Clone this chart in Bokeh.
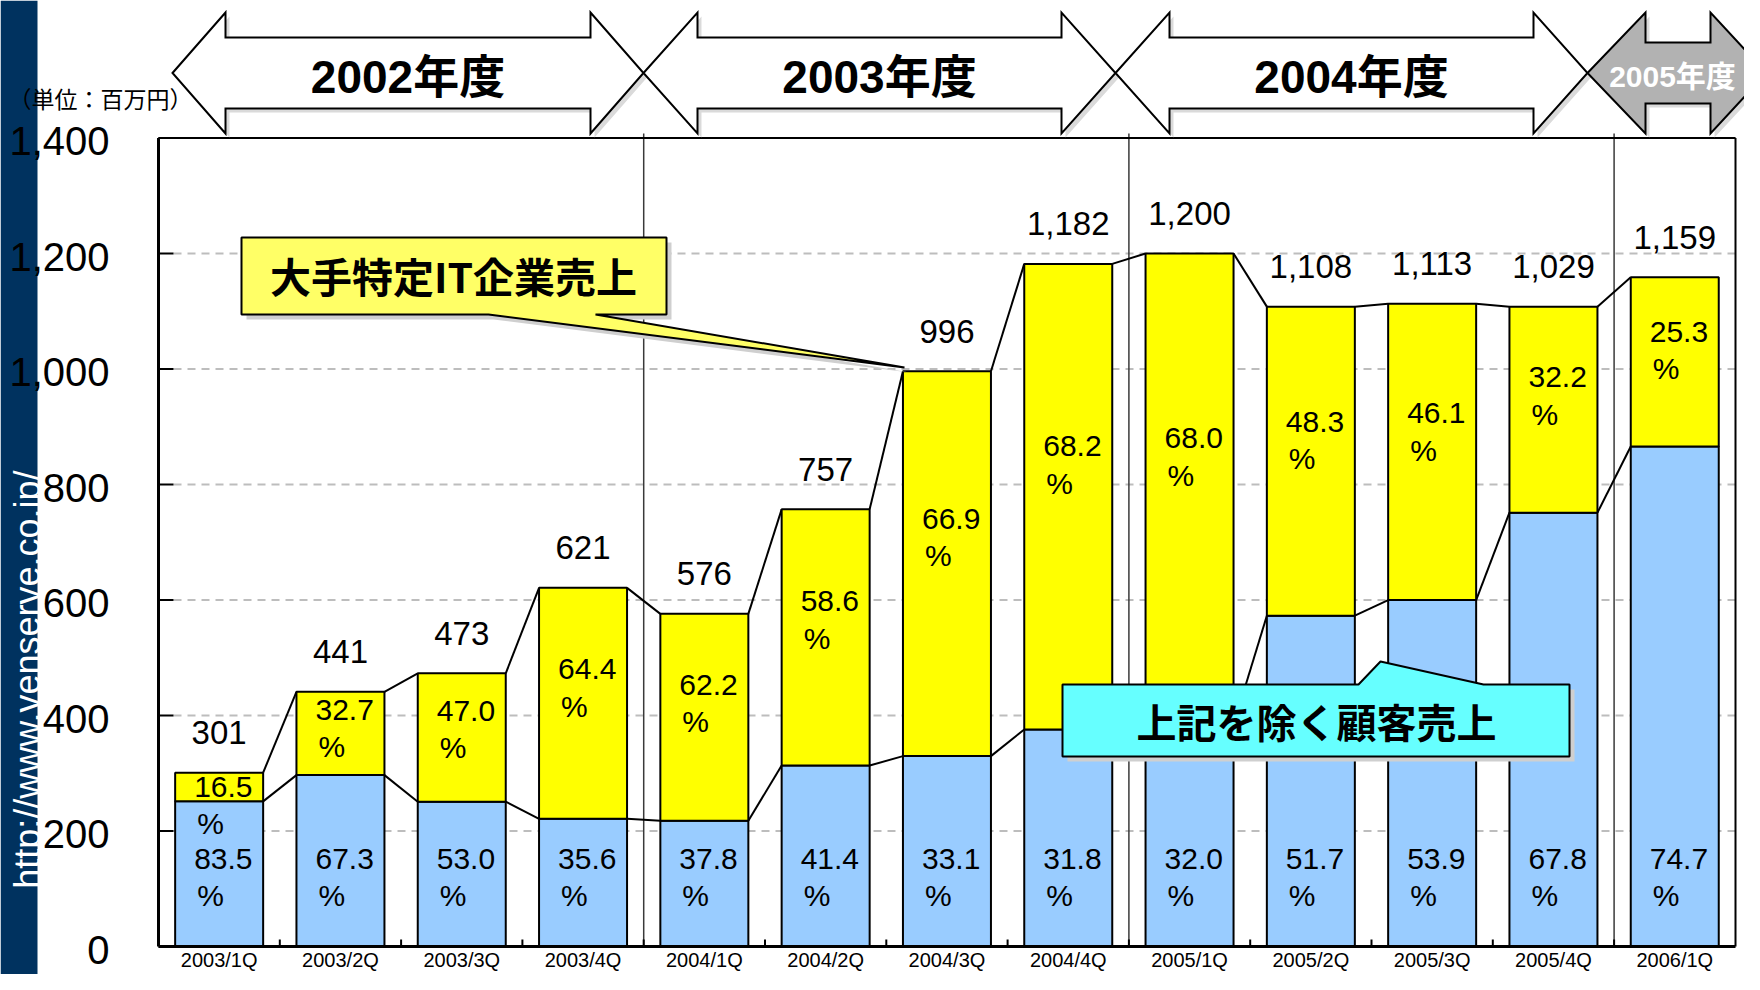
import math
from bokeh.plotting import figure
from bokeh.models import Range1d
from bokeh.core.properties import value
from bokeh.embed import file_html
from bokeh.resources import INLINE

# ---------------- data ----------------
quarters = ["2003/1Q", "2003/2Q", "2003/3Q", "2003/4Q", "2004/1Q", "2004/2Q", "2004/3Q",
            "2004/4Q", "2005/1Q", "2005/2Q", "2005/3Q", "2005/4Q", "2006/1Q"]
fiscal_years = ["2002年度", "2003年度", "2004年度", "2005年度"]
quarters_per_year = [4, 4, 4, 1]
sales_total = [301, 441, 473, 621, 576, 757, 996, 1182, 1200, 1108, 1113, 1029, 1159]
# bar heights as drawn in the source picture (2005/4Q is drawn at about 1,108)
drawn_total = [301, 441, 473, 621, 576, 757, 996, 1182, 1200, 1108, 1113, 1108, 1159]
major_it_share = [16.5, 32.7, 47.0, 64.4, 62.2, 58.6, 66.9, 68.2, 68.0, 48.3, 46.1, 32.2, 25.3]
other_share = [83.5, 67.3, 53.0, 35.6, 37.8, 41.4, 33.1, 31.8, 32.0, 51.7, 53.9, 67.8, 74.7]
y_ticks = [0, 200, 400, 600, 800, 1000, 1200, 1400]
unit_label = "（単位：百万円）"
major_label = "大手特定IT企業売上"
other_label = "上記を除く顧客売上"
url_text = "http://www.venserve.co.jp/"

# ---------------- layout helpers (picture pixels -> data) ----------------
FL, FB, CW, K = 158.0, 946.0, 121.3, 0.5775   # frame left, zero line, category width, px per unit
W, H = 1744, 974


def X(px):
    return (px - FL) / CW - 0.5


def Y(py):
    return (FB - py) / K


n = len(quarters)
xs = list(range(n))
BW = 88.0 / CW
blue_top = [t * s / 100.0 for t, s in zip(drawn_total, other_share)]

LAT = value("Liberation Sans")
CJK = value("Noto Sans CJK JP")
MIX = value("Liberation Sans, Noto Sans CJK JP")

p = figure(width=W, height=H, output_backend="svg", toolbar_location=None,
           x_range=Range1d(X(0), X(W)), y_range=Range1d(Y(H), Y(0)),
           x_axis_location=None, y_axis_location=None, min_border=0,
           outline_line_color=None, background_fill_color="white", border_fill_color="white")
p.xgrid.visible = False
p.ygrid.visible = False

# left navy band with url
p.quad(left=X(0), right=X(37), bottom=Y(H), top=Y(0), fill_color="#00325F", line_color=None)
p.text(x=[X(27)], y=[Y(470)], text=[url_text], angle=math.pi / 2, text_align="right",
       text_baseline="alphabetic", text_color="white", text_font=LAT, text_font_size="36px")

# grid lines (dashed) and inward ticks
for t in y_ticks[1:]:
    p.segment(x0=X(173), y0=t, x1=X(1735), y1=t, line_color="#BDBDBD", line_width=2, line_dash="8 6")
p.segment(x0=[X(FL)] * len(y_ticks), y0=y_ticks, x1=[X(173)] * len(y_ticks), y1=y_ticks,
          line_color="black", line_width=2)

# fiscal-year separators
cum = 0
for q in quarters_per_year[:-1]:
    cum += q
    p.segment(x0=cum - 0.5, y0=Y(133), x1=cum - 0.5, y1=0, line_color="#3A3A3A", line_width=1.5)

# connectors between bars
x0c = [i + BW / 2 for i in range(n - 1)]
x1c = [i + 1 - BW / 2 for i in range(n - 1)]
p.segment(x0=x0c, y0=drawn_total[:-1], x1=x1c, y1=drawn_total[1:], line_color="black", line_width=2)
p.segment(x0=x0c, y0=blue_top[:-1], x1=x1c, y1=blue_top[1:], line_color="black", line_width=2)

# stacked bars
p.vbar(x=xs, width=BW, bottom=0, top=blue_top, fill_color="#99CCFF", line_color="black", line_width=2)
p.vbar(x=xs, width=BW, bottom=blue_top, top=drawn_total, fill_color="#FFFF00", line_color="black", line_width=2)

# frame
p.segment(x0=X(FL), y0=0, x1=X(FL), y1=1400, line_color="black", line_width=3)
p.segment(x0=X(FL), y0=0, x1=X(1735), y1=0, line_color="black", line_width=3)
p.segment(x0=X(FL), y0=1400, x1=X(1735), y1=1400, line_color="black", line_width=2)
p.segment(x0=X(1735), y0=0, x1=X(1735), y1=1400, line_color="black", line_width=2)
bx = [i + 0.5 for i in range(n - 1)]
p.segment(x0=bx, y0=[0] * len(bx), x1=bx, y1=[7 / K] * len(bx), line_color="black", line_width=2)

# axis labels
p.text(x=[X(109)] * len(y_ticks), y=y_ticks, text=[f"{t:,}" for t in y_ticks], y_offset=3,
       text_align="right", text_baseline="middle", text_font=LAT, text_font_size="40px", text_color="black")
p.text(x=xs, y=[Y(959)] * n, text=quarters, text_align="center", text_baseline="middle",
       text_font=LAT, text_font_size="20px", text_color="black")

# totals above bars
p.text(x=xs, y=[t + 40 / K for t in drawn_total], text=[f"{v:,}" for v in sales_total],
       text_align="center", text_baseline="middle", text_font=LAT, text_font_size="33px", text_color="black")

# percentage labels (upper block placed a little above the segment middle)
lx = [i - BW / 2 for i in xs]
ylab = [t - max(0.43 * (t - b), 32 / K) for b, t in zip(blue_top, drawn_total)]
PF = "30px"
p.text(x=lx, y=ylab, text=[f"{v:.1f}" for v in major_it_share], x_offset=19, y_offset=-18,
       text_align="left", text_baseline="middle", text_font=LAT, text_font_size=PF, text_color="black")
p.text(x=lx, y=ylab, text=["%"] * n, x_offset=22, y_offset=19,
       text_align="left", text_baseline="middle", text_font=LAT, text_font_size=PF, text_color="black")
p.text(x=lx, y=[121] * n, text=[f"{v:.1f}" for v in other_share], x_offset=19, y_offset=-18,
       text_align="left", text_baseline="middle", text_font=LAT, text_font_size=PF, text_color="black")
p.text(x=lx, y=[121] * n, text=["%"] * n, x_offset=22, y_offset=19,
       text_align="left", text_baseline="middle", text_font=LAT, text_font_size=PF, text_color="black")


# callouts
def poly(pts, dx=0, dy=0):
    return [X(a + dx) for a, b in pts], [Y(b + dy) for a, b in pts]


yel = [(241, 237), (666, 237), (666, 314), (595, 314), (904, 367), (488, 314), (241, 314)]
cya = [(1062, 684), (1358, 684), (1380, 661), (1483, 684), (1569, 684), (1569, 756), (1062, 756)]
for shape, col in ((yel, "#FFFF66"), (cya, "#66FFFF")):
    sx, sy = poly(shape, 5, 5)
    p.patch(sx, sy, fill_color="#CFCFCF", line_color=None)
    sx, sy = poly(shape)
    p.patch(sx, sy, fill_color=col, line_color="black", line_width=2)
p.text(x=[X(453)], y=[Y(274)], text=[major_label], text_align="center", text_baseline="middle",
       text_font=CJK, text_font_style="bold", text_font_size="41px", text_color="black")
p.text(x=[X(1316)], y=[Y(720)], text=[other_label], text_align="center", text_baseline="middle",
       text_font=CJK, text_font_style="bold", text_font_size="40px", text_color="black")


# fiscal year arrows
def arrow(l, r, hl, hr, st, sb, top=12, bot=133, cy=72.5):
    return [(l, cy), (l + hl, top), (l + hl, st), (r - hr, st), (r - hr, top), (r, cy),
            (r - hr, bot), (r - hr, sb), (l + hl, sb), (l + hl, bot)]


arrows = [arrow(172, 643, 53, 53, 37, 108), arrow(643, 1115, 54, 54, 37, 108),
          arrow(1115, 1587, 54, 54, 37, 108), arrow(1587, 1766, 58, 56, 42, 103)]
for a in arrows:
    sx, sy = poly(a, 4, 4)
    p.patch(sx, sy, fill_color="#DADADA", line_color=None)
for k, a in enumerate(arrows):
    sx, sy = poly(a)
    last = k == len(arrows) - 1
    p.patch(sx, sy, fill_color="#B2B2B2" if last else "white", line_color="black", line_width=2,
            line_join="miter")
centers = [(172 + 643) / 2, (643 + 1115) / 2, (1115 + 1587) / 2, 1672]
for k, (c, lab) in enumerate(zip(centers, fiscal_years)):
    last = k == len(fiscal_years) - 1
    p.text(x=[X(c)], y=[Y(76)], text=[lab], text_align="center", text_baseline="middle",
           text_font=MIX, text_font_style="bold", text_font_size="30px" if last else "46px",
           text_color="white" if last else "black")

# unit label
p.text(x=[X(8)], y=[Y(97)], text=[unit_label], text_align="left", text_baseline="middle",
       text_font=CJK, text_font_size="23px", text_color="black")

open("out.html", "w").write(file_html(p, INLINE))
